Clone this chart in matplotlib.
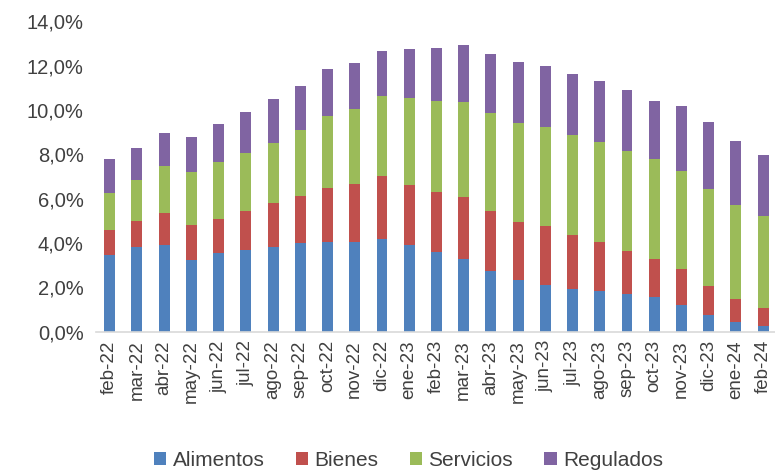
import numpy as np
import matplotlib
matplotlib.use("Agg")
import matplotlib.pyplot as plt
from matplotlib.ticker import FuncFormatter

plt.rcParams["font.family"] = ["Liberation Sans", "DejaVu Sans"]

meses = ["feb-22", "mar-22", "abr-22", "may-22", "jun-22", "jul-22", "ago-22",
         "sep-22", "oct-22", "nov-22", "dic-22", "ene-23", "feb-23", "mar-23",
         "abr-23", "may-23", "jun-23", "jul-23", "ago-23", "sep-23", "oct-23",
         "nov-23", "dic-23", "ene-24", "feb-24"]

# contribuciones (puntos porcentuales)
alimentos = [3.47, 3.81, 3.90, 3.23, 3.54, 3.68, 3.83, 4.00, 4.04, 4.05, 4.17, 3.92, 3.60,
             3.27, 2.75, 2.33, 2.13, 1.95, 1.85, 1.70, 1.55, 1.22, 0.74, 0.42, 0.26]
bienes = [1.14, 1.19, 1.47, 1.60, 1.56, 1.78, 1.99, 2.14, 2.46, 2.63, 2.83, 2.70, 2.72,
          2.82, 2.69, 2.64, 2.66, 2.43, 2.22, 1.96, 1.75, 1.59, 1.32, 1.08, 0.82]
servicios = [1.66, 1.85, 2.12, 2.39, 2.56, 2.60, 2.71, 2.96, 3.23, 3.37, 3.63, 3.92, 4.09,
             4.28, 4.41, 4.44, 4.46, 4.49, 4.49, 4.49, 4.48, 4.43, 4.38, 4.23, 4.14]
regulados = [1.54, 1.45, 1.47, 1.56, 1.71, 1.85, 1.97, 1.98, 2.10, 2.05, 2.03, 2.22, 2.40,
             2.56, 2.65, 2.74, 2.72, 2.77, 2.73, 2.74, 2.63, 2.93, 3.01, 2.86, 2.77]

series = [("Alimentos", alimentos, "#4F81BD"),
          ("Bienes", bienes, "#C0504D"),
          ("Servicios", servicios, "#9BBB59"),
          ("Regulados", regulados, "#8064A2")]

fig = plt.figure(figsize=(7.75, 4.7), dpi=100)
ax = fig.add_axes([0.124, 0.294, 0.88, 0.661])

x = np.arange(len(meses))
base = np.zeros(len(meses))
for name, vals, color in series:
    ax.bar(x, vals, width=0.4, bottom=base, color=color, label=name, zorder=2)
    base += np.array(vals)

ax.set_xlim(-0.5, len(meses) - 0.45)
ax.set_ylim(0, 14)
ax.set_yticks(np.arange(0, 14.1, 2))
ax.yaxis.set_major_formatter(FuncFormatter(lambda v, p: f"{v:.1f}%".replace(".", ",")))
ax.set_xticks(x)
ax.set_xticklabels(meses, rotation=90, fontsize=13.5, color="#404040")
ax.tick_params(axis="y", labelsize=14.5, labelcolor="#404040", length=0, pad=9)
ax.tick_params(axis="x", length=0, pad=6)

for s in ["top", "right", "left"]:
    ax.spines[s].set_visible(False)
ax.spines["bottom"].set_color("#D9D9D9")
ax.spines["bottom"].set_linewidth(1.2)

fig.legend(loc="lower center", bbox_to_anchor=(0.527, -0.04), ncol=4, frameon=False,
           fontsize=15, handlelength=0.6, handleheight=0.6, handletextpad=0.3,
           columnspacing=1.5, labelcolor="#404040")

plt.savefig("out.png", dpi=100)
plt.close()
